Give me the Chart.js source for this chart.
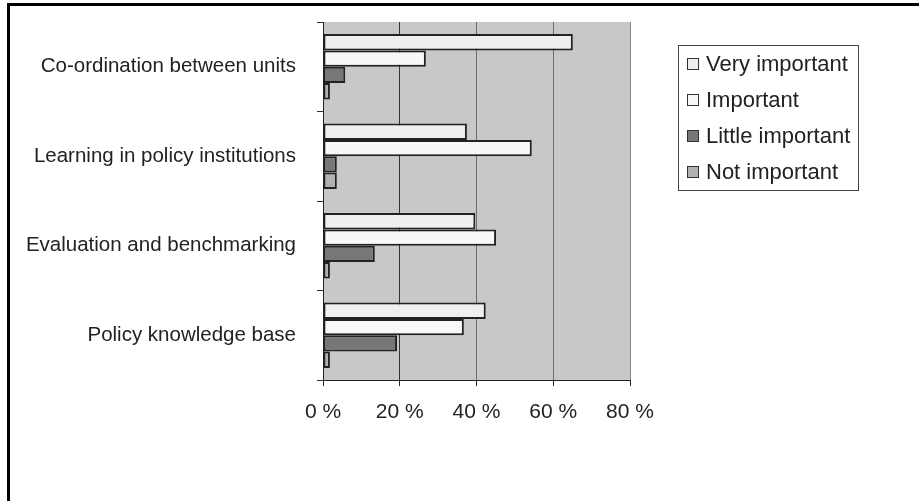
<!DOCTYPE html>
<html>
<head>
<meta charset="utf-8">
<script src="https://cdn.jsdelivr.net/npm/chart.js"></script>
<style>
  html, body { margin: 0; padding: 0; background: #fff; }
  .frame {
    position: absolute; left: 7px; top: 3px; width: 912px; height: 498px;
    border-top: 3px solid #000; border-left: 3px solid #000;
    box-sizing: border-box;
  }
  .chart-wrap { position: absolute; left: 0; top: 0; width: 919px; height: 501px; }
</style>
</head>
<body>
<div class="frame"></div>
<div class="chart-wrap"><canvas id="factorsChart"></canvas></div>
<script>
//   <------------ Data ------------->
const categories = [
  'Co-ordination between units',
  'Learning in policy institutions',
  'Evaluation and benchmarking',
  'Policy knowledge base'
];
const seriesNames = ['Very important', 'Important', 'Little important', 'Not important'];
const veryImportant = [65.1, 37.5, 39.7, 42.4];
const important = [26.8, 54.4, 45.1, 36.7];
const littleImportant = [5.8, 3.6, 13.5, 19.3];
const notImportant = [1.8, 3.6, 1.8, 1.8];
const xTicks = [0, 20, 40, 60, 80];

const fills = ['#eef0ef', '#f8f8f8', '#777777', '#b1b1b4'];
const seriesValues = [veryImportant, important, littleImportant, notImportant];

//   <------------ Plugins ------------->
const plotBackground = {
  id: 'plotBackground',
  beforeDraw(chart) {
    const a = chart.chartArea;
    const c = chart.ctx;
    c.save();
    c.fillStyle = '#c8c8ca';
    c.fillRect(a.left, a.top, a.right - a.left, a.bottom - a.top);
    c.restore();
  }
};

const boxLegend = {
  id: 'boxLegend',
  afterDraw(chart) {
    const c = chart.ctx;
    c.save();
    c.strokeStyle = '#444';
    c.lineWidth = 1;
    c.strokeRect(678.5, 45.5, 180, 145);
    c.font = '22px "Liberation Sans", Arial, sans-serif';
    c.textBaseline = 'middle';
    chart.data.datasets.forEach(function(ds, i) {
      const y = 64 + i * 36;
      c.fillStyle = ds.backgroundColor;
      c.fillRect(687, y - 6, 12, 12);
      c.strokeStyle = '#333';
      c.strokeRect(687.5, y - 5.5, 11, 11);
      c.fillStyle = '#222';
      c.fillText(ds.label, 706, y + 1);
    });
    c.restore();
  }
};

//   <------------ Chart ------------->
const ctx = document.getElementById('factorsChart').getContext('2d');

const data = {
  labels: categories,
  datasets: seriesNames.map(function(name, i) {
    return {
      label: name,
      data: seriesValues[i],
      backgroundColor: fills[i],
      borderColor: '#222',
      borderWidth: 2,
      borderSkipped: false,
      categoryPercentage: 0.73,
      barPercentage: 1.0
    };
  })
};

const gridColors = ['#222', '#333', '#6e6e6e', '#6e6e6e', '#8a8a8a'];

const config = {
  type: 'bar',
  data: data,
  options: {
    indexAxis: 'y',
    responsive: true,
    maintainAspectRatio: false,
    animation: false,
    layout: { padding: { left: 0, top: 22, right: 289, bottom: 79 } },
    plugins: {
      legend: { display: false },
      tooltip: { enabled: false }
    },
    scales: {
      x: {
        min: xTicks[0],
        max: xTicks[xTicks.length - 1],
        afterBuildTicks(scale) {
          scale.ticks = xTicks.map(v => ({ value: v }));
        },
        afterFit(scale) {
          scale.height = 42;
          scale.paddingLeft = 0;
          scale.paddingRight = 0;
        },
        border: { color: '#222', width: 1 },
        grid: {
          color: ctx => gridColors[ctx.index] || '#777',
          lineWidth: 1,
          tickLength: 6,
          tickColor: '#222'
        },
        ticks: {
          padding: 14,
          color: '#222',
          font: { family: '"Liberation Sans", Arial, sans-serif', size: 21 },
          callback: v => v + ' %'
        }
      },
      y: {
        afterFit(scale) {
          scale.width = 323;
          scale.paddingTop = 0;
          scale.paddingBottom = 0;
        },
        border: { color: '#222', width: 1 },
        grid: {
          offset: true,
          drawOnChartArea: false,
          tickLength: 6,
          tickColor: '#333'
        },
        ticks: {
          padding: 21,
          color: '#222',
          font: { family: '"Liberation Sans", Arial, sans-serif', size: 20.5 }
        }
      }
    }
  },
  plugins: [plotBackground, boxLegend]
};

var factorsChart = new Chart(ctx, config);
</script>
</body>
</html>
